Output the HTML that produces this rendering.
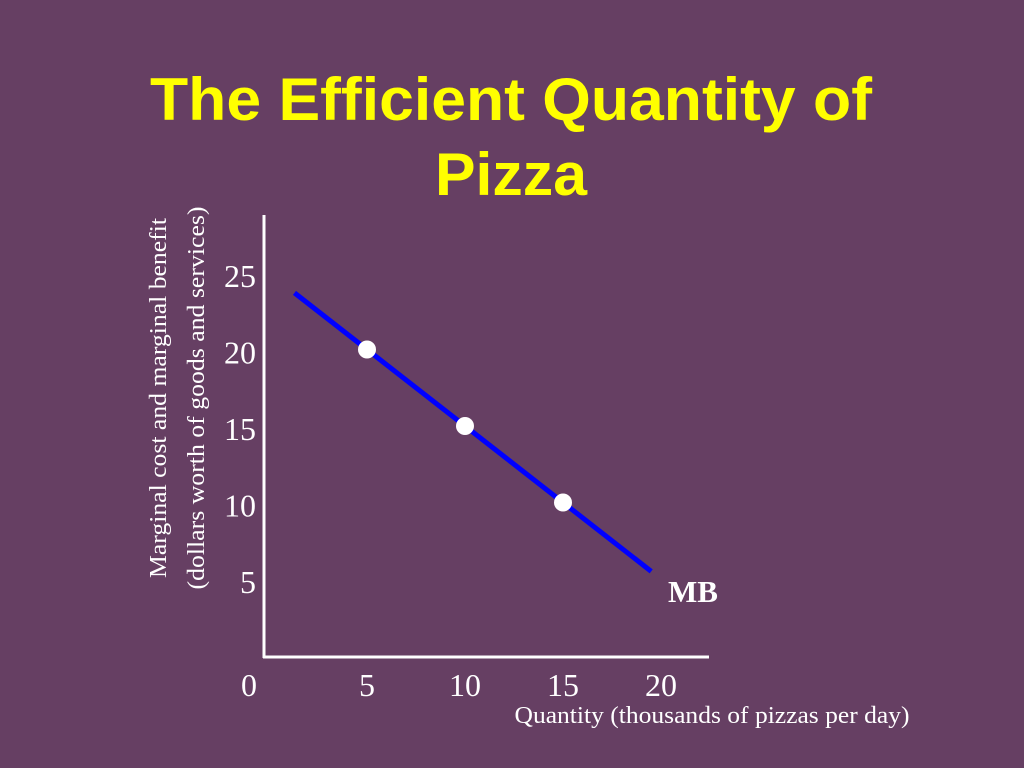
<!DOCTYPE html>
<html><head><meta charset="utf-8"><style>
html,body{margin:0;padding:0;width:1024px;height:768px;background:#663f63;overflow:hidden}
svg{display:block}
</style></head><body>
<svg width="1024" height="768">
<rect width="1024" height="768" fill="#663f63"/>
<g font-family="Liberation Sans, sans-serif" font-weight="bold" font-size="60" fill="#ffff00" text-anchor="middle">
<text x="511" y="120" textLength="722" lengthAdjust="spacingAndGlyphs">The Efficient Quantity of</text>
<text x="511" y="195" textLength="152" lengthAdjust="spacingAndGlyphs">Pizza</text>
</g>
<g font-family="Liberation Serif, serif" font-size="24" fill="#fff" text-anchor="middle">
<text transform="translate(166,398) rotate(-90)" textLength="360" lengthAdjust="spacingAndGlyphs">Marginal cost and marginal benefit</text>
<text transform="translate(204,398) rotate(-90)" textLength="383" lengthAdjust="spacingAndGlyphs">(dollars worth of goods and services)</text>
</g>
<g id="axes" stroke="#fff" stroke-width="3">
<line x1="264" y1="215" x2="264" y2="658"/>
<line x1="263" y1="657" x2="709" y2="657"/>
</g>
<g id="ticks" font-family="Liberation Serif, serif" font-size="32" fill="#fff"></g>
<g id="series"></g>
<text x="668" y="602" font-family="Liberation Serif, serif" font-weight="bold" font-size="31" fill="#fff">MB</text>
<text x="712" y="723" text-anchor="middle" font-family="Liberation Serif, serif" font-size="24" fill="#fff" textLength="395" lengthAdjust="spacingAndGlyphs">Quantity (thousands of pizzas per day)</text>
</svg>
<script>
const xTicks=[5,10,15,20];
const yTicks=[5,10,15,20,25];
const lineX=[1.3,19.5];
const lineY=[23.7,5.5];
const pointX=[5,10,15];
const pointY=[20,15,10];
const NS="http://www.w3.org/2000/svg";
function sx(v){return 367+(v-5)*19.6;}
function sy(v){return 426-(v-15)*15.3;}
const tk=document.getElementById('ticks');
function mk(tag,a,p){const e=document.createElementNS(NS,tag);for(const k in a)e.setAttribute(k,a[k]);p.appendChild(e);return e;}
let z=mk('text',{x:249,y:696,'text-anchor':'middle'},tk);z.textContent='0';


xTicks.forEach(v=>{const t=mk('text',{x:sx(v),y:696,'text-anchor':'middle'},tk);t.textContent=v;

});
yTicks.forEach(v=>{const t=mk('text',{x:256,y:sy(v)+14,'text-anchor':'end'},tk);t.textContent=v;

});
const g=document.getElementById('series');
const l=mk('line',{x1:sx(lineX[0]),y1:sy(lineY[0]),x2:sx(lineX[1]),y2:sy(lineY[1]),stroke:'#0000ff','stroke-width':5},g);


pointX.forEach((v,i)=>{const c=mk('circle',{cx:sx(v),cy:sy(pointY[i]),r:9,fill:'#fff'},g);

});
</script>
</body></html>
